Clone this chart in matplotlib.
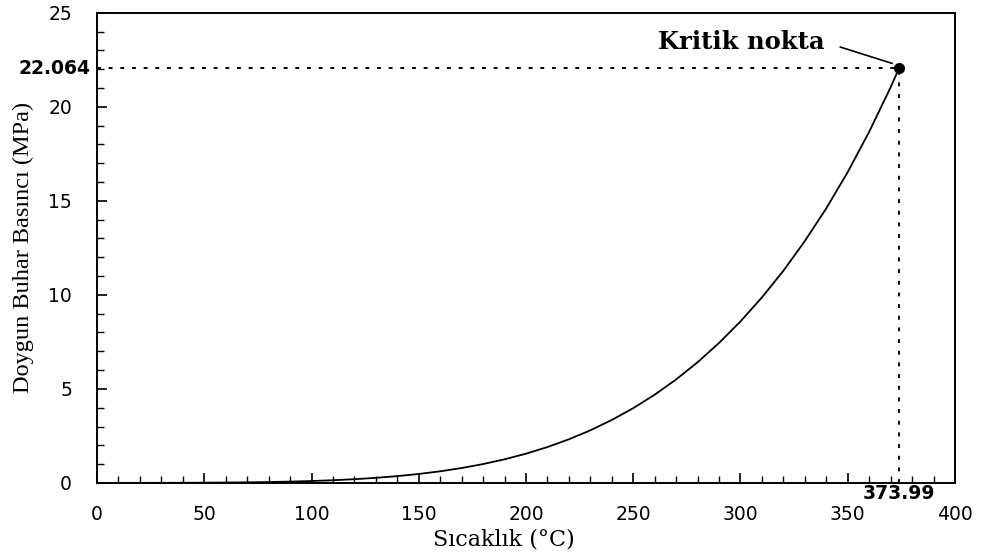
import numpy as np
import matplotlib
matplotlib.use("Agg")
import matplotlib.pyplot as plt
from matplotlib.ticker import MultipleLocator

# doyma egrisi (okunan degerler)
sicaklik = [0, 10, 20, 30, 40, 50, 60, 70, 80, 90, 100, 110, 120, 130, 140, 150,
            160, 170, 180, 190, 200, 210, 220, 230, 240, 250, 260, 270, 280, 290,
            300, 310, 320, 330, 340, 350, 360, 370, 373.99]
basinc = [0.0006, 0.0012, 0.0023, 0.0042, 0.0074, 0.0123, 0.0199, 0.0312, 0.0474,
          0.0702, 0.101, 0.143, 0.199, 0.270, 0.362, 0.476, 0.618, 0.792, 1.003,
          1.255, 1.555, 1.908, 2.320, 2.797, 3.347, 3.976, 4.692, 5.503, 6.417,
          7.442, 8.588, 9.865, 11.28, 12.86, 14.60, 16.53, 18.67, 21.04, 22.064]

kritik_T = 373.99
kritik_P = 22.064

fig = plt.figure(figsize=(9.85, 5.57), dpi=100)
ax = fig.add_axes([0.0985, 0.133, 0.871, 0.844])

ax.plot(sicaklik, basinc, color="black", lw=1.3)
ax.plot([0, kritik_T], [kritik_P, kritik_P], color="black", ls=(0, (2, 4)), lw=1.4)
ax.plot([kritik_T, kritik_T], [0, kritik_P], color="black", ls=(0, (2, 4)), lw=1.4)
ax.plot(kritik_T, kritik_P, "o", color="black", ms=7)

ax.annotate("Kritik nokta", xy=(kritik_T - 2, kritik_P + 0.2), xytext=(339, 23.45),
            ha="right", va="center", fontsize=17.5, fontweight="bold", family="DejaVu Serif",
            arrowprops=dict(arrowstyle="-", color="black", lw=1.2, shrinkA=10, shrinkB=2,
                            relpos=(1, 0.5)))

ax.set_xlim(0, 400)
ax.set_ylim(0, 25)
ax.xaxis.set_major_locator(MultipleLocator(50))
ax.xaxis.set_minor_locator(MultipleLocator(10))
ax.yaxis.set_major_locator(MultipleLocator(5))
ax.yaxis.set_minor_locator(MultipleLocator(1))
ax.tick_params(which="both", direction="in", top=False, right=False, labelsize=13.5)
ax.tick_params(which="major", length=7, width=1.2)
ax.tick_params(which="minor", length=5, width=1.0)
ax.tick_params(axis="x", pad=16)
ax.tick_params(axis="y", pad=18)
for s in ax.spines.values():
    s.set_linewidth(1.4)

ax.text(-3, kritik_P, "22.064", ha="right", va="center", fontsize=13.5, fontweight="bold")
ax.text(kritik_T, -0.05, "373.99", ha="center", va="top", fontsize=13.5, fontweight="bold")

ax.set_xlabel("Sıcaklık (°C)", family="DejaVu Serif", fontsize=16)
ax.xaxis.set_label_coords(0.474, -0.098)
ax.set_ylabel("Doygun Buhar Basıncı (MPa)", family="Liberation Serif", fontsize=17.5, labelpad=10)

fig.savefig("out.png", dpi=100)
